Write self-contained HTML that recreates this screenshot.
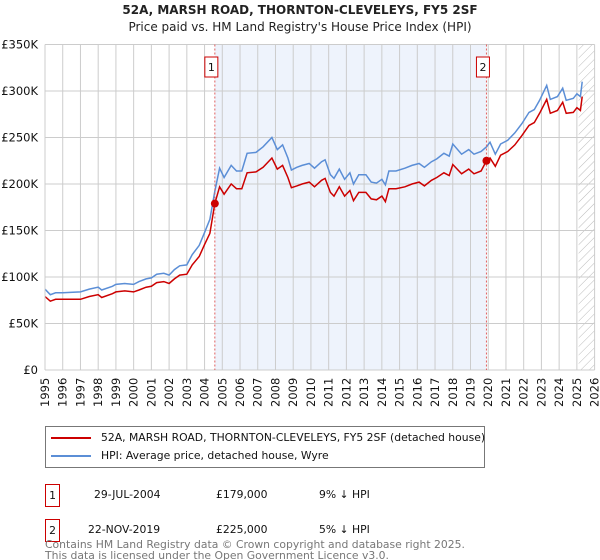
<!DOCTYPE html>
<html><head><meta charset="utf-8"><style>
body{margin:0;background:#fff;font-family:"DejaVu Sans","Liberation Sans",sans-serif;}
#wrap{position:relative;width:600px;height:560px;overflow:hidden;}
#wrap div{white-space:nowrap;}
</style></head><body>
<div id="wrap">
<svg id="chart" width="600" height="560" style="position:absolute;left:0;top:0;font-family:'DejaVu Sans','Liberation Sans',sans-serif">
<defs><pattern id="hatch" width="6" height="6" patternUnits="userSpaceOnUse" patternTransform="rotate(45)"><line x1="0" y1="0" x2="0" y2="6" stroke="#bbb" stroke-width="1"/></pattern></defs>
<text x="300" y="14" text-anchor="middle" font-size="12" font-weight="bold" fill="#222">52A, MARSH ROAD, THORNTON-CLEVELEYS, FY5 2SF</text>
<text x="300" y="31" text-anchor="middle" font-size="12" fill="#222">Price paid vs. HM Land Registry's House Price Index (HPI)</text>
<g id="grid"></g><g id="series"></g><g id="overlay"></g>
</svg>
<div style="position:absolute;left:45px;top:426px;width:438px;height:40px;border:1px solid #777;font-size:10.8px;color:#111">
 <div style="position:absolute;left:5px;top:4px"><span style="display:inline-block;width:40px;height:2px;background:#cc0000;vertical-align:middle;margin-right:10px"></span>52A, MARSH ROAD, THORNTON-CLEVELEYS, FY5 2SF (detached house)</div>
 <div style="position:absolute;left:5px;top:22px"><span style="display:inline-block;width:40px;height:2px;background:#5b8ed6;vertical-align:middle;margin-right:10px"></span>HPI: Average price, detached house, Wyre</div>
</div>
<div style="position:absolute;left:0;top:0;font-size:10.8px;color:#111">
 <div style="position:absolute;left:45px;top:484px;width:13px;height:21px;border:1px solid #cc0000;text-align:center;line-height:21px">1</div>
 <div style="position:absolute;left:94px;top:488px">29-JUL-2004</div>
 <div style="position:absolute;left:216px;top:488px">£179,000</div>
 <div style="position:absolute;left:319px;top:488px">9% ↓ HPI</div>
 <div style="position:absolute;left:45px;top:519px;width:13px;height:21px;border:1px solid #cc0000;text-align:center;line-height:21px">2</div>
 <div style="position:absolute;left:88px;top:523px">22-NOV-2019</div>
 <div style="position:absolute;left:216px;top:523px">£225,000</div>
 <div style="position:absolute;left:319px;top:523px">5% ↓ HPI</div>
</div>
<div style="position:absolute;left:45px;top:539px;font-size:10.8px;line-height:11px;color:#777">Contains HM Land Registry data © Crown copyright and database right 2025.<br>This data is licensed under the Open Government Licence v3.0.</div>
</div>
<script>
const dates=[1995.0,1995.3,1995.6,1996.0,1997.0,1997.5,1998.0,1998.2,1998.8,1999.0,1999.5,2000.0,2000.3,2000.7,2001.0,2001.3,2001.7,2002.0,2002.3,2002.6,2003.0,2003.3,2003.7,2004.0,2004.3,2004.58,2004.85,2005.1,2005.5,2005.8,2006.1,2006.4,2006.9,2007.3,2007.8,2008.1,2008.4,2008.7,2008.9,2009.2,2009.5,2009.9,2010.2,2010.6,2010.8,2011.1,2011.3,2011.6,2011.9,2012.2,2012.4,2012.7,2013.1,2013.4,2013.7,2014.0,2014.2,2014.4,2014.8,2015.3,2015.7,2016.1,2016.4,2016.8,2017.1,2017.5,2017.8,2018.0,2018.5,2018.9,2019.2,2019.6,2019.9,2020.1,2020.4,2020.7,2021.1,2021.5,2021.9,2022.3,2022.6,2022.9,2023.3,2023.5,2023.9,2024.2,2024.4,2024.8,2025.0,2025.2,2025.3];
const hpiValues=[87,81,83,83,84,87,89,86,90,92,93,92,95,98,99,103,104,102,108,112,113,124,134,148,162,192,217,207,220,214,214,233,234,240,250,237,242,228,215,218,220,222,217,224,226,210,206,216,205,212,200,210,210,202,201,205,199,214,214,217,220,222,218,224,227,233,230,243,232,237,232,235,240,245,232,243,247,255,265,277,280,290,306,291,294,303,290,292,297,294,310];
const propertyValues=[79,74,76,76,76,79,81,78,82,84,85,84,86,89,90,94,95,93,98,102,103,113,122,135,147,179,197,189,200,195,195,212,213,218,228,216,220,207,196,198,200,202,197,204,206,191,187,197,187,193,182,191,191,184,183,187,181,195,195,197,200,202,198,204,207,212,209,221,211,216,211,214,225,228,219,231,235,242,252,263,266,276,291,276,279,288,276,277,282,279,294];
const yTicks=[0,50,100,150,200,250,300,350];
const yTickLabels=["£0","£50K","£100K","£150K","£200K","£250K","£300K","£350K"];
const years=[1995,1996,1997,1998,1999,2000,2001,2002,2003,2004,2005,2006,2007,2008,2009,2010,2011,2012,2013,2014,2015,2016,2017,2018,2019,2020,2021,2022,2023,2024,2025,2026];
const saleDates=[2004.58,2019.9];
const salePrices=[179,225];
const saleLabels=["1","2"];

const X0=45,X1=594.6,Y0=370,Y1=44.5;
const xs=t=>X0+(t-1995)/(2026-1995)*(X1-X0);
const ys=v=>Y0-v/350*(Y0-Y1);
const NS="http://www.w3.org/2000/svg";
function mk(tag,attrs,parent){const e=document.createElementNS(NS,tag);for(const k in attrs)e.setAttribute(k,attrs[k]);parent.appendChild(e);return e;}
const grid=document.getElementById('grid'),ser=document.getElementById('series'),ov=document.getElementById('overlay');
let r=mk('rect',{x:xs(saleDates[0]),y:Y1,width:xs(saleDates[1])-xs(saleDates[0]),height:Y0-Y1,fill:'#eef3fc'},grid);


let h=mk('rect',{x:xs(2025.1),y:Y1,width:X1-xs(2025.1),height:Y0-Y1,fill:'url(#hatch)'},grid);


years.forEach(yr=>{
  const x=xs(yr);
  let l=mk('line',{x1:x,x2:x,y1:Y1,y2:Y0,stroke:'#ccc','stroke-width':1},grid);
  
  
  let t=mk('text',{x:0,y:0,transform:`translate(${x+4},${Y0+37}) rotate(-90)`,'font-size':11.5,fill:'#111'},grid);
  t.textContent=yr;
  
  
});
yTicks.forEach((v,i)=>{
  const y=ys(v);
  let l=mk('line',{x1:X0,x2:X1,y1:y,y2:y,stroke:'#ccc','stroke-width':1},grid);
  
  
  let t=mk('text',{x:38,y:y+4,'text-anchor':'end','font-size':11.5,fill:'#111'},grid);
  t.textContent=yTickLabels[i];
  
  
});
function line(vals,color,name){
  const d=dates.map((t,i)=>(i?'L':'M')+xs(t).toFixed(1)+' '+ys(vals[i]).toFixed(1)).join(' ');
  let p=mk('path',{d:d,fill:'none',stroke:color,'stroke-width':1.5},ser);
  
  
}
line(hpiValues,'#5b8ed6','hpi-line');
line(propertyValues,'#cc0000','property-line');
saleDates.forEach((t,i)=>{
  const x=xs(t);
  let l=mk('line',{x1:x,x2:x,y1:Y1,y2:Y0,stroke:'#e06060','stroke-width':1,'stroke-dasharray':'2,2'},ov);
  
  
  let c=mk('circle',{cx:x,cy:ys(salePrices[i]),r:4,fill:'#cc0000'},ov);
  
  
  let b=mk('rect',{x:x-10,y:57,width:13,height:20,fill:'#fff',stroke:'#cc0000'},ov);
  
  
  let tx=mk('text',{x:x-3.5,y:71,'text-anchor':'middle','font-size':11,fill:'#111'},ov);
  tx.textContent=saleLabels[i];
  
  
});
let ax=mk('line',{x1:X0,x2:X0,y1:Y1,y2:Y0,stroke:'#ccc'},ov);


</script>
</body></html>
